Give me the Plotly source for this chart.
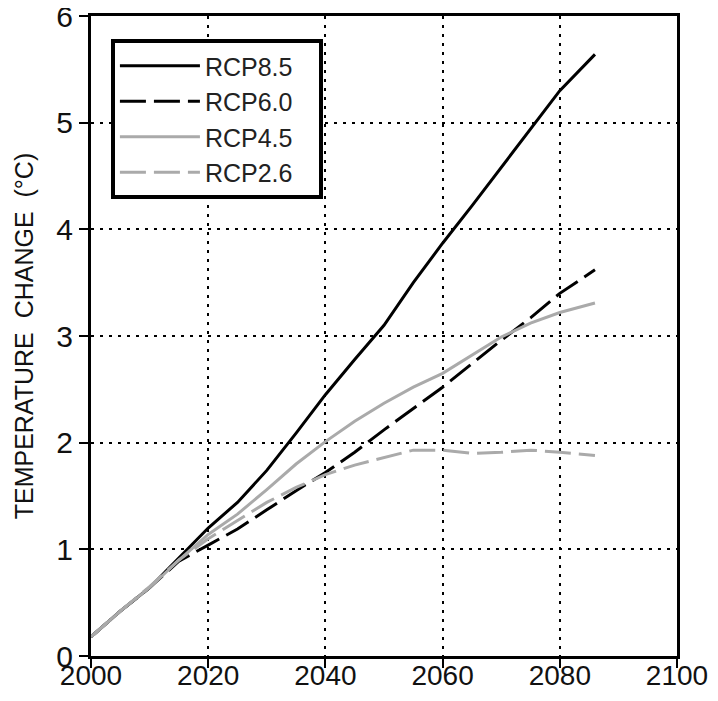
import plotly.graph_objects as go

years = [2000, 2005, 2010, 2015, 2020, 2025, 2030, 2035, 2040, 2045, 2050,
         2055, 2060, 2065, 2070, 2075, 2080, 2086]
rcp85 = [0.18, 0.42, 0.64, 0.92, 1.20, 1.44, 1.74, 2.09, 2.45, 2.78, 3.10,
         3.50, 3.87, 4.22, 4.58, 4.95, 5.30, 5.64]
rcp60 = [0.18, 0.42, 0.64, 0.89, 1.04, 1.19, 1.37, 1.55, 1.72, 1.91, 2.12,
         2.32, 2.52, 2.74, 2.96, 3.17, 3.40, 3.62]
rcp45 = [0.18, 0.42, 0.64, 0.90, 1.14, 1.33, 1.56, 1.80, 2.01, 2.20, 2.37,
         2.52, 2.65, 2.82, 2.99, 3.12, 3.22, 3.31]
rcp26 = [0.18, 0.42, 0.65, 0.90, 1.10, 1.27, 1.44, 1.58, 1.70, 1.79, 1.86,
         1.93, 1.93, 1.90, 1.91, 1.93, 1.91, 1.88]

x_ticks = [2000, 2020, 2040, 2060, 2080, 2100]
y_ticks = [0, 1, 2, 3, 4, 5, 6]

series = [
    ("RCP8.5", rcp85, "black", "solid"),
    ("RCP6.0", rcp60, "black", "26px,8px"),
    ("RCP4.5", rcp45, "#aaaaaa", "solid"),
    ("RCP2.6", rcp26, "#aaaaaa", "26px,8px"),
]

fig = go.Figure()
for name, vals, color, dash in series:
    # trailing no-break spaces only pad the legend box to the reference width
    fig.add_trace(go.Scatter(x=years, y=vals, mode="lines",
                             name=name + "\u00a0\u00a0\u00a0",
                             line=dict(color=color, width=3, dash=dash)))

font = "Liberation Sans, Arial, sans-serif"
axis_common = dict(
    showline=True, linecolor="black", linewidth=3, mirror=True,
    ticks="outside", ticklen=9, tickwidth=1.5, tickcolor="black",
    showgrid=True, gridcolor="black", gridwidth=1.5, griddash="3px,6px",
    zeroline=False, automargin=False, ticklabeloverflow="allow",
)
fig.update_xaxes(range=[2000, 2100], tickmode="array", tickvals=x_ticks,
                 ticktext=[str(v) for v in x_ticks], ticklabelstandoff=-17,
                 tickfont=dict(family=font, size=28, color="#111"),
                 **axis_common)
fig.update_yaxes(range=[0, 6], tickmode="array", tickvals=y_ticks,
                 ticktext=[str(v) for v in y_ticks],
                 tickfont=dict(family=font, size=30, color="#111"),
                 title=dict(text="TEMPERATURE  CHANGE  (°C)",
                            font=dict(family=font, size=25, color="#111"),
                            standoff=16),
                 **axis_common)

# page body has an 8px margin, so the figure is sized to fit inside it
fig.update_layout(
    width=702, height=685,
    margin=dict(l=83, r=33, t=8, b=37),
    paper_bgcolor="white", plot_bgcolor="white",
    showlegend=True,
    legend=dict(x=0.034, y=0.964, xanchor="left", yanchor="top",
                bgcolor="white", bordercolor="black", borderwidth=4,
                font=dict(family=font, size=25, color="#222"),
                itemwidth=80, tracegroupgap=0),
)

fig.write_html("out.html")
